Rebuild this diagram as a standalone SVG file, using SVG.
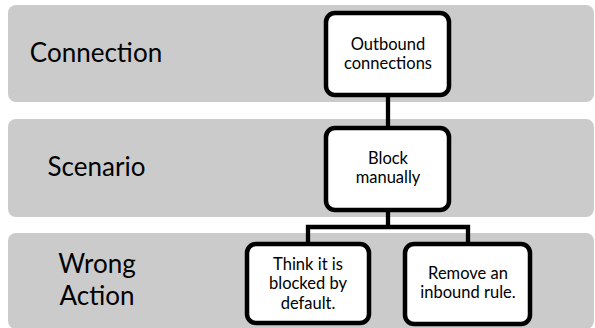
<svg xmlns="http://www.w3.org/2000/svg" width="595" height="328" viewBox="0 0 595 328">
<style>
.band{fill:#cbcbcb;}
.lbl{font-family:Lato,"Liberation Sans",sans-serif;font-size:26px;fill:#000;text-anchor:middle;}
.node{fill:#fff;stroke:#000;stroke-width:4.5;}
.nt{font-family:Lato,"Liberation Sans",sans-serif;font-size:16.5px;fill:#000;text-anchor:middle;}
.conn{fill:none;stroke:#000;stroke-width:4.3;stroke-linejoin:miter;}
</style>
<rect x="0" y="0" width="595" height="328" fill="#fff"/>
<g id="band-connection">
<rect class="band" x="8" y="5" width="586" height="97" rx="8"/>
<text class="lbl" x="96" y="62">Connection</text>
</g>
<g id="band-scenario">
<rect class="band" x="8" y="119" width="586" height="98" rx="8"/>
<text class="lbl" x="96.5" y="176">Scenario</text>
</g>
<g id="band-wrong-action">
<rect class="band" x="8" y="233" width="586" height="96" rx="8"/>
<text class="lbl" x="97" y="273">Wrong</text>
<text class="lbl" x="97" y="305">Action</text>
</g>
<g id="connectors">
<path class="conn" d="M388 97 V126"/>
<path class="conn" d="M388 212 V227 M308 242 V227 H468 V242"/>
</g>
<g id="node-outbound">
<rect class="node" x="326" y="13" width="123" height="82" rx="9"/>
<text class="nt" x="388" y="50">Outbound</text>
<text class="nt" x="388" y="69">connections</text>
</g>
<g id="node-block">
<rect class="node" x="326" y="128" width="123" height="82" rx="9"/>
<text class="nt" x="388" y="164">Block</text>
<text class="nt" x="388" y="183">manually</text>
</g>
<g id="node-think">
<rect class="node" x="247" y="244" width="122" height="79" rx="9"/>
<text class="nt" x="308" y="270">Think it is</text>
<text class="nt" x="308" y="289">blocked by</text>
<text class="nt" x="308" y="309">default.</text>
</g>
<g id="node-remove">
<rect class="node" x="405" y="244" width="125" height="80" rx="9"/>
<text class="nt" x="468" y="279">Remove an</text>
<text class="nt" x="468" y="298">inbound rule.</text>
</g>
</svg>
